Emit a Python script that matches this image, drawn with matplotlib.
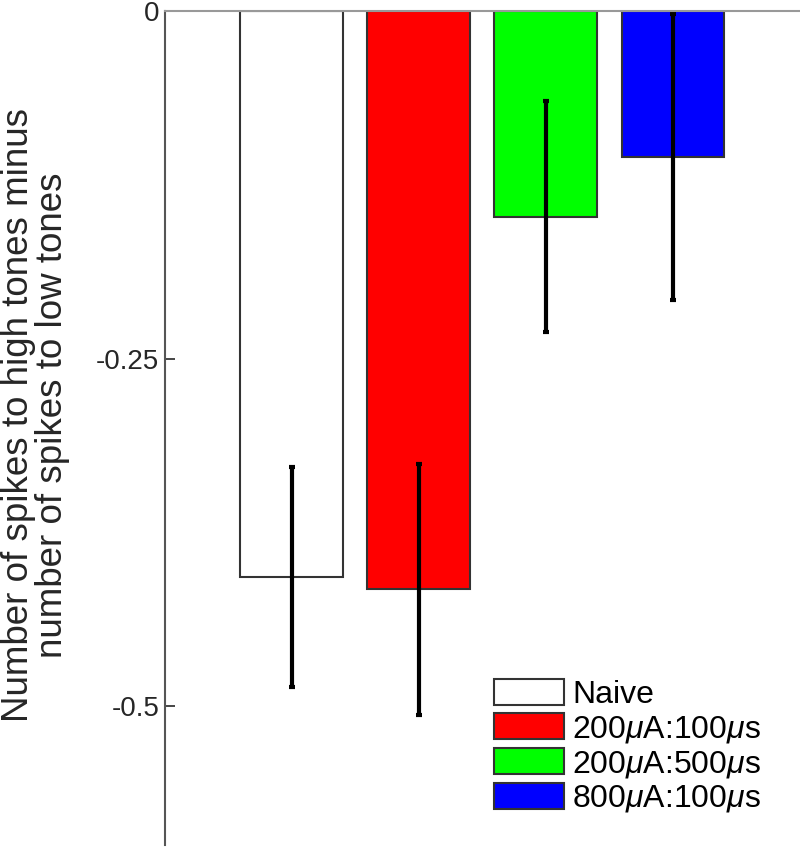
import matplotlib.pyplot as plt
from matplotlib.patches import Patch

plt.rcParams['font.family'] = ['Liberation Sans', 'DejaVu Sans']
plt.rcParams['mathtext.fontset'] = 'custom'
plt.rcParams['mathtext.it'] = 'Liberation Sans:italic'

groups = ['Naive', r'200$\mu$A:100$\mu$s', r'200$\mu$A:500$\mu$s', r'800$\mu$A:100$\mu$s']
means = [-0.407, -0.416, -0.148, -0.105]
errors = [0.079, 0.090, 0.083, 0.103]
colors = ['white', '#ff0000', '#00ff00', '#0000ff']

fig = plt.figure(figsize=(8, 8.47), dpi=100)
ax = fig.add_axes([0.206, 0.002, 0.794, 0.985])

x = range(1, len(means) + 1)
ax.bar(x, means, width=0.81, color=colors, edgecolor='#333333', linewidth=1.5)
ax.errorbar(x, means, yerr=errors, fmt='none', ecolor='black', elinewidth=3,
            capsize=2.5, capthick=3)

ax.set_xlim(0, 5)
ax.set_ylim(-0.6, 0)
ax.set_yticks([0, -0.25, -0.5])
ax.set_yticklabels(['0', '-0.25', '-0.5'])
ax.set_xticks([])
ax.tick_params(axis='y', direction='in', length=7, labelsize=20, colors='#262626',
               width=1.2, pad=4)
ax.spines['right'].set_visible(False)
ax.spines['bottom'].set_visible(False)
ax.spines['left'].set_color('#555555')
ax.spines['left'].set_linewidth(1.5)
ax.spines['top'].set_color('#999999')
ax.spines['top'].set_linewidth(1.5)

ax.set_ylabel('Number of spikes to high tones minus\nnumber of spikes to low tones',
              fontsize=26.5, color='#262626', linespacing=0.95)
ax.yaxis.set_label_coords(-0.150, 0.516)

handles = [Patch(facecolor=c, edgecolor='#333333', linewidth=1.5) for c in colors]
ax.legend(handles, groups, loc='lower right', bbox_to_anchor=(0.939, 0.037), frameon=False,
          fontsize=23, handlelength=2.22, handleheight=0.88, labelspacing=0.1,
          handletextpad=0.25, borderaxespad=0, borderpad=0)

fig.savefig('out.png', dpi=100)
